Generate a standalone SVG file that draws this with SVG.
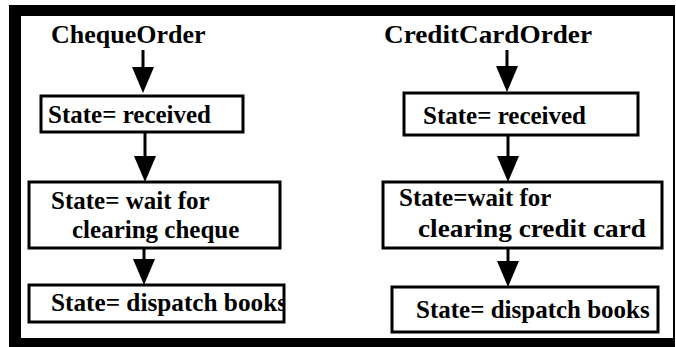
<svg xmlns="http://www.w3.org/2000/svg" width="676" height="347" viewBox="0 0 676 347">
<style>
.t{font-family:"Liberation Serif","Times New Roman",serif;font-weight:bold;fill:#000}
.title{font-size:26px}
.lbl{font-size:25px}
.box{fill:#fff;stroke:#000;stroke-width:3}
.conn{stroke:#000;stroke-width:3;fill:none}
</style>
<defs>
<marker id="ah" viewBox="0 0 26 22" refX="14" refY="11" markerWidth="26" markerHeight="22" markerUnits="userSpaceOnUse" orient="auto">
<path d="M0,0 L26,11 L0,22 z" fill="#000"/>
</marker>
<clipPath id="clipBox3">
<rect x="29" y="285" width="254" height="37"/>
</clipPath>
</defs>
<rect x="9" y="5" width="666" height="342" fill="#000"/>
<rect x="21" y="16" width="652" height="322" fill="#fff"/>

<g id="cheque-order">
<text class="t title" x="51" y="43">ChequeOrder</text>
</g>
<g id="cheque-received">
<rect class="box" x="41" y="96" width="202" height="36"/>
<text class="t lbl" x="48" y="123">State= received</text>
</g>
<g id="cheque-wait">
<rect class="box" x="29" y="182" width="251" height="66"/>
<text class="t lbl" x="51" y="209">State= wait for</text>
<text class="t lbl" x="72" y="238">clearing cheque</text>
</g>
<g id="cheque-dispatch">
<text class="t lbl" x="51" y="311" textLength="236" lengthAdjust="spacingAndGlyphs" clip-path="url(#clipBox3)">State= dispatch books</text>
<rect x="29" y="285" width="255" height="37" fill="none" stroke="#000" stroke-width="3"/>
</g>

<g id="credit-order">
<text class="t title" x="384" y="43" textLength="208" lengthAdjust="spacingAndGlyphs">CreditCardOrder</text>
</g>
<g id="credit-received">
<rect class="box" x="404" y="93" width="234" height="42"/>
<text class="t lbl" x="423" y="124">State= received</text>
</g>
<g id="credit-wait">
<rect class="box" x="383" y="182" width="279" height="66"/>
<text class="t lbl" x="399" y="206">State=wait for</text>
<text class="t lbl" x="418" y="237" textLength="228" lengthAdjust="spacingAndGlyphs">clearing credit card</text>
</g>
<g id="credit-dispatch">
<rect class="box" x="392" y="287" width="266" height="45"/>
<text class="t lbl" x="416" y="318">State= dispatch books</text>
</g>

<g id="connectors">
<line class="conn" x1="143" y1="50" x2="143" y2="81" marker-end="url(#ah)"/>
<line class="conn" x1="145" y1="133" x2="145" y2="170" marker-end="url(#ah)"/>
<line class="conn" x1="144" y1="249" x2="144" y2="273" marker-end="url(#ah)"/>
<line class="conn" x1="507" y1="50" x2="507" y2="80" marker-end="url(#ah)"/>
<line class="conn" x1="508" y1="136" x2="508" y2="170" marker-end="url(#ah)"/>
<line class="conn" x1="508" y1="249" x2="508" y2="275" marker-end="url(#ah)"/>
</g>
</svg>
